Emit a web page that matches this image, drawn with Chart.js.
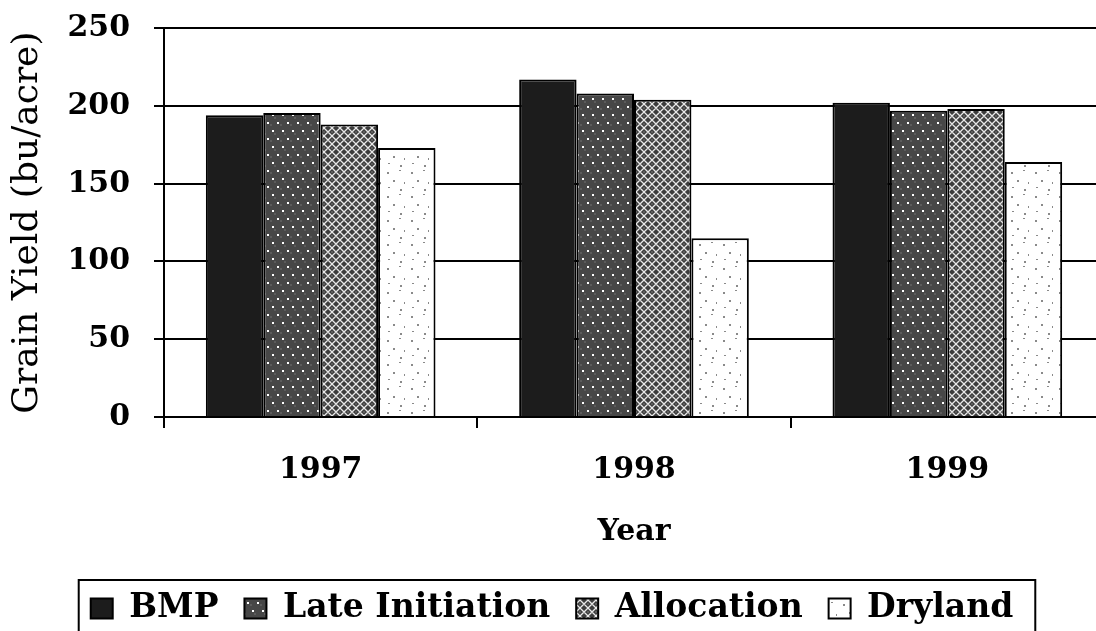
<!DOCTYPE html>
<html>
<head>
<meta charset="utf-8">
<script src="https://cdn.jsdelivr.net/npm/chart.js@4.4.1/dist/chart.umd.min.js"></script>
<style>
  html, body { margin: 0; padding: 0; background: #fff; overflow: hidden; }
  #wadah { width: 1104px; height: 631px; }
</style>
</head>
<body>
<div id="wadah"><canvas id="grafikHasil"></canvas></div>
<script>
// data
const tahun = ['1997', '1998', '1999'];
const nilaiBMP = [194, 217, 202];
const nilaiLate = [195.5, 208, 197];
const nilaiAlokasi = [188, 204, 198];
const nilaiDryland = [173, 115, 164];
const namaSeri = ['BMP', 'Late Initiation', 'Allocation', 'Dryland'];
const tickY = [0, 50, 100, 150, 200, 250];

// pola isian batang (mirip arsiran cetak hitam putih)
function buatPola(lebar, tinggi, gambar) {
    const c = document.createElement('canvas');
    c.width = lebar;
    c.height = tinggi;
    const g = c.getContext('2d');
    gambar(g);
    return document.createElement('canvas').getContext('2d').createPattern(c, 'repeat');
}

const polaLate = buatPola(10, 16, function(g) {
    g.fillStyle = '#474747';
    g.fillRect(0, 0, 10, 16);
    g.fillStyle = '#5c5c5c';
    g.fillRect(4, 5, 2, 2);
    g.fillRect(0, 12, 2, 2);
    g.fillStyle = '#ffffff';
    g.fillRect(2, 2, 2, 2);
    g.fillRect(7, 10, 2, 2);
});

const polaAlokasi = buatPola(8, 8, function(g) {
    g.fillStyle = '#3c3c3c';
    g.fillRect(0, 0, 8, 8);
    g.strokeStyle = '#e8e8e8';
    g.lineWidth = 1.3;
    g.beginPath();
    g.moveTo(0, 4); g.lineTo(4, 0); g.lineTo(8, 4); g.lineTo(4, 8); g.closePath();
    g.stroke();
    g.fillStyle = '#bbbbbb';
    g.fillRect(3.5, 3.5, 1, 1);
});

const polaDryland = buatPola(24, 24, function(g) {
    g.fillStyle = '#ffffff';
    g.fillRect(0, 0, 24, 24);
    g.fillStyle = '#8a8a8a';
    g.fillRect(3, 4, 2, 2);
    g.fillRect(15, 2, 2, 1);
    g.fillRect(9, 12, 2, 2);
    g.fillRect(20, 14, 1, 2);
    g.fillRect(4, 19, 2, 1);
    g.fillRect(16, 21, 2, 2);
});

// kotak garis di sekeliling legenda
const bingkaiLegenda = {
    id: 'bingkaiLegenda',
    afterDraw: function(chart) {
        const kotak = chart.legend.legendHitBoxes;
        if (!kotak || kotak.length === 0) return;
        const awal = kotak[0];
        const akhir = kotak[kotak.length - 1];
        const ctx = chart.ctx;
        const kiri = awal.left - 12;
        const kanan = akhir.left + akhir.width + 22;
        const atas = awal.top - 12;
        ctx.save();
        ctx.strokeStyle = '#000';
        ctx.lineWidth = 2;
        ctx.strokeRect(kiri, atas, kanan - kiri, chart.height + 10 - atas);
        ctx.restore();
    }
};

const hurufTebal = { family: '"DejaVu Serif", serif', size: 30, weight: 'bold' };

new Chart(document.getElementById('grafikHasil'), {
    type: 'bar',
    data: {
        labels: tahun,
        datasets: [
            { label: namaSeri[0], data: nilaiBMP, backgroundColor: '#1c1c1c', borderColor: '#000', borderWidth: 2 },
            { label: namaSeri[1], data: nilaiLate, backgroundColor: polaLate, borderColor: '#000', borderWidth: 2 },
            { label: namaSeri[2], data: nilaiAlokasi, backgroundColor: polaAlokasi, borderColor: '#000', borderWidth: 2 },
            { label: namaSeri[3], data: nilaiDryland, backgroundColor: polaDryland, borderColor: '#000', borderWidth: 2 }
        ]
    },
    options: {
        responsive: true,
        maintainAspectRatio: false,
        animation: false,
        categoryPercentage: 0.733,
        barPercentage: 1.0,
        layout: { padding: { top: 0, left: 0, right: 0, bottom: -4 } },
        plugins: {
            tooltip: { enabled: false },
            legend: {
                position: 'bottom',
                labels: {
                    color: '#000',
                    font: { family: '"DejaVu Serif", serif', size: 33, weight: 'bold' },
                    boxWidth: 22,
                    boxHeight: 20,
                    padding: 26
                }
            }
        },
        scales: {
            x: {
                grid: { drawOnChartArea: false, color: '#000', lineWidth: 2, tickLength: 11 },
                border: { color: '#000', width: 2 },
                ticks: { color: '#000', font: hurufTebal, padding: 24 },
                title: { display: true, text: 'Year', color: '#000', font: hurufTebal, padding: { top: 2, bottom: 16 } }
            },
            y: {
                min: 0,
                max: 250,
                afterBuildTicks: function(skala) {
                    skala.ticks = tickY.map(function(v) { return { value: v }; });
                },
                afterFit: function(skala) { skala.width = 164; },
                grid: { color: '#000', lineWidth: 2, tickLength: 10 },
                border: { color: '#000', width: 2 },
                ticks: {
                    color: '#000',
                    font: { family: '"DejaVu Serif", serif', size: 30, weight: 'bold', lineHeight: 0.28 },
                    padding: 24
                },
                title: {
                    display: true,
                    text: 'Grain Yield (bu/acre)',
                    color: '#000',
                    font: { family: '"DejaVu Serif", serif', size: 36 },
                    padding: { top: 6, bottom: 10 }
                }
            }
        }
    },
    plugins: [bingkaiLegenda]
});
</script>
</body>
</html>
